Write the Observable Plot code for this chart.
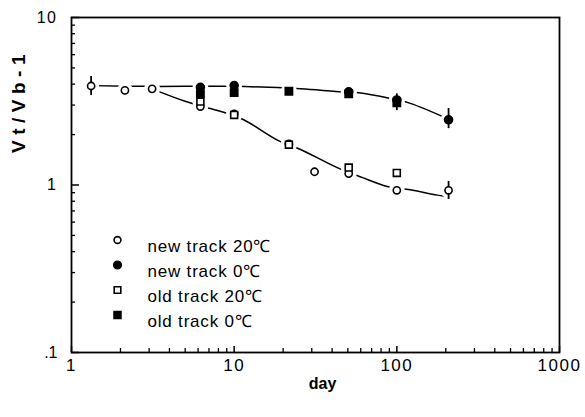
<!DOCTYPE html>
<html>
<head>
<meta charset="utf-8">
<script src="https://cdn.jsdelivr.net/npm/d3@7"></script>
<script src="https://cdn.jsdelivr.net/npm/@observablehq/plot@0.6"></script>
<style>
  html, body { margin: 0; padding: 0; background: #fff; }
  svg { font-family: "Liberation Sans", Arial, Helvetica, sans-serif; }
</style>
</head>
<body>
<div id="chart"></div>
<script>
// ---- data ----
const new20Day = [1.32, 2.13, 3.13, 6.2, 10, 21.7, 31.2, 50.6, 100, 208];
const new20Val = [3.9, 3.67, 3.75, 2.94, 2.66, 1.76, 1.2, 1.17, 0.93, 0.93];
const new0Day  = [6.2, 10, 50.6, 100, 208];
const new0Val  = [3.83, 3.92, 3.6, 3.22, 2.45];
const old20Day = [6.2, 10, 21.7, 50.6, 100];
const old20Val = [3.15, 2.62, 1.74, 1.27, 1.18];
const old0Day  = [6.2, 10, 21.7, 50.6, 100];
const old0Val  = [3.5, 3.56, 3.63, 3.5, 3.1];

// error bars
const errDay = [1.32, 208, 100, 208];
const errLo  = [3.42, 0.82, 2.78, 2.17];
const errHi  = [4.44, 1.05, 3.5, 2.86];

// fitted guide curves
const upperDay = [1.32, 3.1, 10, 25.6, 42, 58, 87, 121, 208];
const upperVal = [3.92, 3.88, 3.88, 3.75, 3.62, 3.55, 3.32, 3.07, 2.47];
const lowerDay = [3.13, 5.0, 7.15, 10, 12.2, 18.7, 25.6, 43, 61, 87, 121, 177, 208];
const lowerVal = [3.75, 3.16, 2.86, 2.6, 2.37, 1.84, 1.63, 1.27, 1.11, 0.98, 0.936, 0.87, 0.855];

const legendLabels = ["new track 20℃", "new track 0℃", "old track 20℃", "old track 0℃"];
const xMajor = [1, 10, 100, 1000];
const xMinor = [2,3,4,5,6,7,8,9,20,30,40,50,60,70,80,90,200,300,400,500,600,700,800,900];
const yMajor = [0.1, 1, 10];
const yMinor = [0.2,0.3,0.4,0.5,0.6,0.7,0.8,0.9,2,3,4,5,6,7,8,9];

// ---- build ----
const zip = (xs, ys, extra) => xs.map((x, i) => ({x, y: ys[i], ...extra}));
const series = [
  {day: new20Day, val: new20Val, symbol: "circle", fill: "white", r: 3.6},
  {day: new0Day,  val: new0Val,  symbol: "circle", fill: "black", r: 4.0},
  {day: old20Day, val: old20Val, symbol: "square", fill: "white", r: 3.9},
  {day: old0Day,  val: old0Val,  symbol: "square", fill: "black", r: 4.1}
];
const allPts = series.flatMap(s => zip(s.day, s.val, {}));
const errs = errDay.map((x, i) => ({x, lo: errLo[i], hi: errHi[i]}));
const upper = zip(upperDay, upperVal, {});
const lower = zip(lowerDay, lowerVal, {});

const W = 585, H = 417, mL = 71, mR = 26, mT = 17, mB = 65;
const fw = W - mL - mR, fh = H - mT - mB;

const legendMarks = series.flatMap((s, i) => [
  Plot.dot([0], {frameAnchor: "top-left", dx: 46, dy: 222.5 + 25 * i,
    symbol: s.symbol, r: s.r * 0.95, fill: s.fill, stroke: "black", strokeWidth: 1.6}),
  Plot.text([legendLabels[i]], {frameAnchor: "top-left", dx: 76, dy: 222.5 + 25 * i,
    text: d => d, textAnchor: "start", fontSize: 17, fill: "black"})
]);

const plot = Plot.plot({
  width: W, height: H,
  marginLeft: mL, marginRight: mR, marginTop: mT, marginBottom: mB,
  x: {type: "log", domain: [1, 1000]},
  y: {type: "log", domain: [0.1, 10]},
  style: {fontFamily: "'Liberation Sans', Arial, sans-serif", background: "white"},
  marks: [
    Plot.line(upper, {x: "x", y: "y", curve: "catmull-rom", stroke: "black", strokeWidth: 1.5}),
    Plot.line(lower, {x: "x", y: "y", curve: "catmull-rom", stroke: "black", strokeWidth: 1.5}),
    Plot.dot(allPts, {x: "x", y: "y", r: 8, fill: "white", stroke: "none"}),
    Plot.ruleX(errs, {x: "x", y1: "lo", y2: "hi", stroke: "black", strokeWidth: 1.8}),
    ...series.map(s => Plot.dot(zip(s.day, s.val, {}), {x: "x", y: "y",
      symbol: s.symbol, r: s.r, fill: s.fill, stroke: "black", strokeWidth: 1.6})),
    ...legendMarks,
    Plot.tickY(yMinor, {y: d => d, insetRight: fw - 4, stroke: "black", strokeWidth: 1.3}),
    Plot.tickY(yMajor, {y: d => d, insetRight: fw - 8, stroke: "black", strokeWidth: 1.5}),
    Plot.tickX(xMinor, {x: d => d, insetTop: fh - 4, stroke: "black", strokeWidth: 1.3}),
    Plot.tickX(xMajor, {x: d => d, insetTop: fh - 6, stroke: "black", strokeWidth: 1.5}),
    Plot.axisY({ticks: yMajor, tickSize: 0, tickPadding: 14, fontSize: 16,
      tickFormat: d => d === 0.1 ? ".1" : String(d), label: null}),
    Plot.axisX({ticks: xMajor, tickSize: 0, tickPadding: 6, fontSize: 17,
      tickFormat: d => String(d), label: null}),
    Plot.text(["day"], {frameAnchor: "bottom", dx: 7, dy: 36, text: d => d,
      fontSize: 16, fontWeight: "bold", fill: "black"}),
    Plot.text(["Vt/Vb-1"], {frameAnchor: "left", dx: -53, dy: -32, rotate: -90, text: d => d,
      fontSize: 19, fontWeight: "bold", fill: "black"}),
    Plot.frame({stroke: "black", strokeWidth: 1.8})
  ]
});
d3.select(plot).selectAll("text").filter(function() { return this.textContent === "Vt/Vb-1"; })
  .style("letter-spacing", "5.5px");
d3.select(plot).selectAll("text").filter(function() { return /^\d+$/.test(this.textContent); })
  .style("letter-spacing", "1.5px");
d3.select(plot).selectAll("text").filter(function() { return legendLabels.includes(this.textContent); })
  .style("letter-spacing", "0.8px");
document.getElementById("chart").appendChild(plot);
</script>
</body>
</html>
